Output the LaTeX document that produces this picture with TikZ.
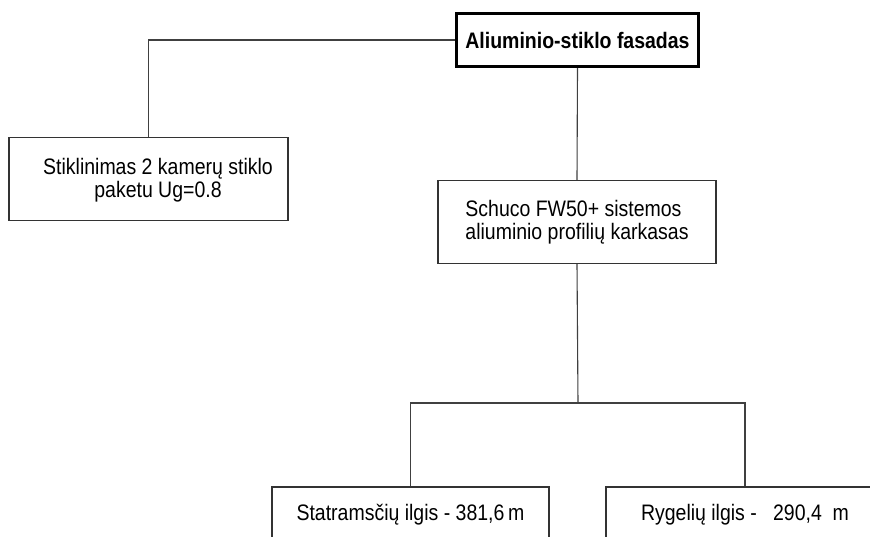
\documentclass[tikz,border=0pt]{standalone}
\usepackage{fontspec}
\setmainfont[FakeStretch=0.87]{Liberation Sans}
\begin{document}
\begin{tikzpicture}[x=1pt,y=-1pt,
  every node/.style={font=\fontsize{22.4}{23.5}\selectfont, text=black},
  boxnode/.style={draw=black!80, line width=1.1pt, rectangle, inner sep=0pt, fill=white},
  topnode/.style={draw=black, line width=3.5pt, rectangle, inner sep=0pt, fill=white, font=\fontsize{22.4}{23.5}\selectfont\bfseries},
  conn/.style={draw=black!75, line width=1.1pt}]
\clip (0,0) rectangle (870,537);
\fill[white] (0,0) rectangle (870,537);
\coordinate (bus) at (578,403);
\node[topnode, minimum width=242pt, minimum height=53pt] (top) at (577.5,40) {Aliuminio-stiklo fasadas};
\node[boxnode, minimum width=279pt, minimum height=83pt] (left) at (148.5,179) {};
\node[align=center, inner sep=0pt] (leftlabel) at (158,180) {Stiklinimas 2 kamerų stiklo\\paketu Ug=0.8};
\node[boxnode, minimum width=278pt, minimum height=83pt, align=left] (schuco) at (577,222) {Schuco FW50+ sistemos\\aliuminio profilių karkasas};
\node[boxnode, minimum width=277pt, minimum height=56pt] (stat) at (410.5,515) {Statramsčių ilgis - 381,6\,m};
\node[boxnode, minimum width=278pt, minimum height=56pt] (ryg) at (745,515) {Rygelių ilgis -\ \ \ 290,4\ \ m};
\draw[conn] (top.west) -| (left.north);
\draw[conn] (top.south) -- (schuco.north);
\draw[conn] (schuco.south) -- (bus);
\draw[conn] (stat.north) |- (bus) -| (ryg.north);
\end{tikzpicture}
\end{document}
